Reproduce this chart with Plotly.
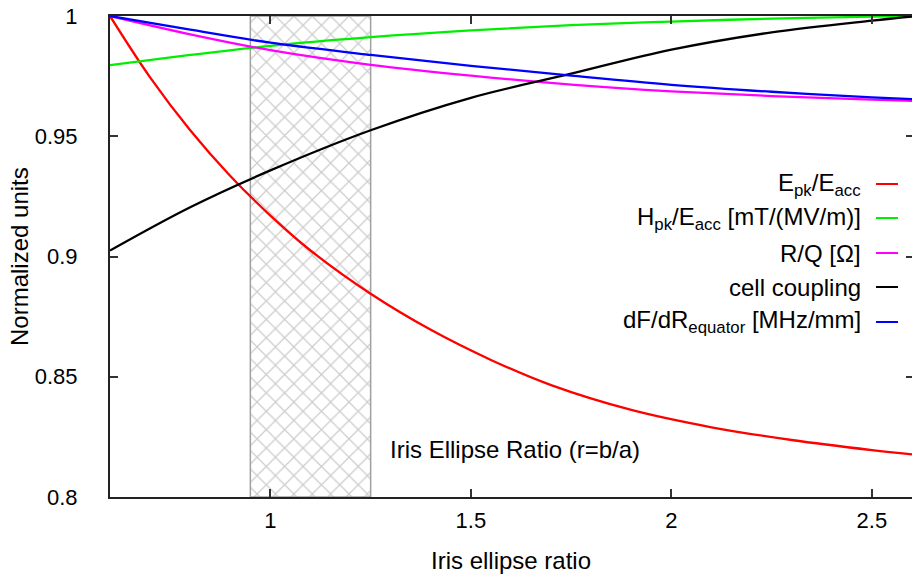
import plotly.graph_objects as go

# ---- data ----
epk_x = [0.6, 0.7, 0.8, 0.9, 1.0, 1.1, 1.25, 1.4, 1.55, 1.7, 1.9, 2.1, 2.3, 2.5, 2.6]
epk_y = [1.0, 0.9745, 0.9525, 0.9335, 0.9170, 0.9025, 0.8845, 0.8695, 0.8570, 0.8465,
         0.8362, 0.8290, 0.8237, 0.8195, 0.8177]

hpk_x = [0.6, 0.8, 1.0, 1.25, 1.5, 1.75, 2.0, 2.25, 2.5, 2.6]
hpk_y = [0.9796, 0.9838, 0.9876, 0.9912, 0.9940, 0.9962, 0.9977, 0.9989, 0.9997, 1.0]

rq_x = [0.6, 0.8, 1.0, 1.25, 1.5, 1.75, 2.0, 2.25, 2.5, 2.6]
rq_y = [1.0, 0.9924, 0.9858, 0.9797, 0.9752, 0.9715, 0.9687, 0.9667, 0.9652, 0.9647]

cc_x = [0.6, 0.8, 1.0, 1.25, 1.5, 1.75, 2.0, 2.25, 2.5, 2.6]
cc_y = [0.9025, 0.9205, 0.9358, 0.9525, 0.9660, 0.9760, 0.9860, 0.9932, 0.9981, 0.9998]

df_x = [0.6, 0.8, 1.0, 1.25, 1.5, 1.75, 2.0, 2.25, 2.5, 2.6]
df_y = [1.0, 0.9943, 0.9889, 0.9838, 0.9793, 0.9752, 0.9714, 0.9685, 0.9662, 0.9654]

series_names = [
    "E<sub>pk</sub>/E<sub>acc</sub>",
    "H<sub>pk</sub>/E<sub>acc</sub> [mT/(MV/m)]",
    "R/Q [Ω]",
    "cell coupling",
    "dF/dR<sub>equator</sub> [MHz/mm]",
]
series_colors = ["#ff0000", "#00ee00", "#ff00ff", "#000000", "#0000ff"]

band_x = [0.95, 1.25]          # hatched iris-ellipse-ratio band
y_range = [0.8, 1.0]
x_range = [0.6, 2.6]
x_ticks = [1, 1.5, 2, 2.5]
y_ticks = [0.8, 0.85, 0.9, 0.95, 1.0]
y_tick_text = ["0.8", "0.85", "0.9", "0.95", "1"]
band_label = "Iris Ellipse Ratio (r=b/a)"
band_label_pos = (1.302, 0.8196)
x_title = "Iris ellipse ratio"
y_title = "Normalized units"

FONT = "Liberation Sans, Arial, sans-serif"
TICK_SIZE = 22
TEXT_SIZE = 24

fig = go.Figure()

# hatched band
fig.add_trace(go.Scatter(
    x=[band_x[0], band_x[1], band_x[1], band_x[0], band_x[0]],
    y=[y_range[0], y_range[0], y_range[1], y_range[1], y_range[0]],
    mode="lines", fill="toself",
    line=dict(color="#a0a0a0", width=1.5),
    fillcolor="rgba(0,0,0,0)",
    fillpattern=dict(shape="x", size=13, solidity=0.18, fgcolor="#9a9a9a", bgcolor="white"),
    showlegend=False, hoverinfo="skip",
))

xs = [epk_x, hpk_x, rq_x, cc_x, df_x]
ys = [epk_y, hpk_y, rq_y, cc_y, df_y]
for xv, yv, nm, col in zip(xs, ys, series_names, series_colors):
    fig.add_trace(go.Scatter(x=xv, y=yv, mode="lines", name=nm,
                             line=dict(color=col, width=2.3, shape="spline", smoothing=1.0),
                             showlegend=False))

# invisible trace to carry the right-hand tick axis
fig.add_trace(go.Scatter(x=[x_range[0]], y=[y_range[0]], yaxis="y2", mode="markers",
                         marker=dict(opacity=0), showlegend=False, hoverinfo="skip"))

# layout geometry (pixels)
W, H = 912, 579
ML, MR, MT, MB = 110, 0, 16, 82
pw, ph = W - ML - MR, H - MT - MB

def px_x(px):
    return (px - ML) / pw

def px_y(py):
    return (H - MB - py) / ph

# custom legend (text right, line sample to its right)
legend_rows_py = [184, 218, 253, 287, 322]
annotations = []
shapes = []
for nm, col, py in zip(series_names, series_colors, legend_rows_py):
    annotations.append(dict(xref="paper", yref="paper", x=px_x(861), y=px_y(py),
                            text=nm, showarrow=False, xanchor="right", yanchor="middle",
                            xshift=2,
                            font=dict(family=FONT, size=TEXT_SIZE, color="black")))
    shapes.append(dict(type="line", xref="paper", yref="paper",
                       x0=px_x(876), x1=px_x(898), y0=px_y(py), y1=px_y(py),
                       line=dict(color=col, width=2)))

annotations.append(dict(x=band_label_pos[0], y=band_label_pos[1], xref="x", yref="y",
                        text=band_label, showarrow=False, xanchor="left", yanchor="middle",
                        xshift=-4,
                        font=dict(family=FONT, size=TEXT_SIZE, color="black")))

# y-axis title
annotations.append(dict(xref="paper", yref="paper", x=px_x(19), y=px_y(257),
                        text=y_title, textangle=-90, showarrow=False,
                        xanchor="center", yanchor="middle",
                        font=dict(family=FONT, size=TEXT_SIZE, color="black")))

axis_common = dict(showgrid=False, zeroline=False, ticks="inside", ticklen=8,
                   tickwidth=1.5, tickcolor="#333333",
                   tickfont=dict(family=FONT, size=TICK_SIZE, color="black"))

fig.update_layout(
    width=W, height=H,
    margin=dict(l=ML, r=MR, t=MT, b=MB),
    paper_bgcolor="white", plot_bgcolor="white",
    font=dict(family=FONT, size=TEXT_SIZE, color="black"),
    xaxis=dict(range=x_range, tickvals=x_ticks, ticktext=[str(v) for v in x_ticks],
               showline=True, linecolor="#222222", linewidth=2, mirror="ticks",
               ticklabelstandoff=3,
               title=dict(text=x_title, standoff=20,
                          font=dict(family=FONT, size=TEXT_SIZE)),
               **axis_common),
    yaxis=dict(range=y_range, tickvals=y_ticks,
               ticktext=[t + "\u00a0" for t in y_tick_text],
               showline=True, linecolor="#222222", linewidth=2, mirror=False,
               ticklabelstandoff=20,
               **axis_common),
    yaxis2=dict(range=y_range, overlaying="y", side="right", tickvals=y_ticks,
                showticklabels=False, showline=False, showgrid=False, zeroline=False,
                ticks="inside", ticklen=6, tickwidth=1.5, tickcolor="#333333"),
    annotations=annotations,
    shapes=shapes,
    showlegend=False,
)

fig.write_html("out.html")
